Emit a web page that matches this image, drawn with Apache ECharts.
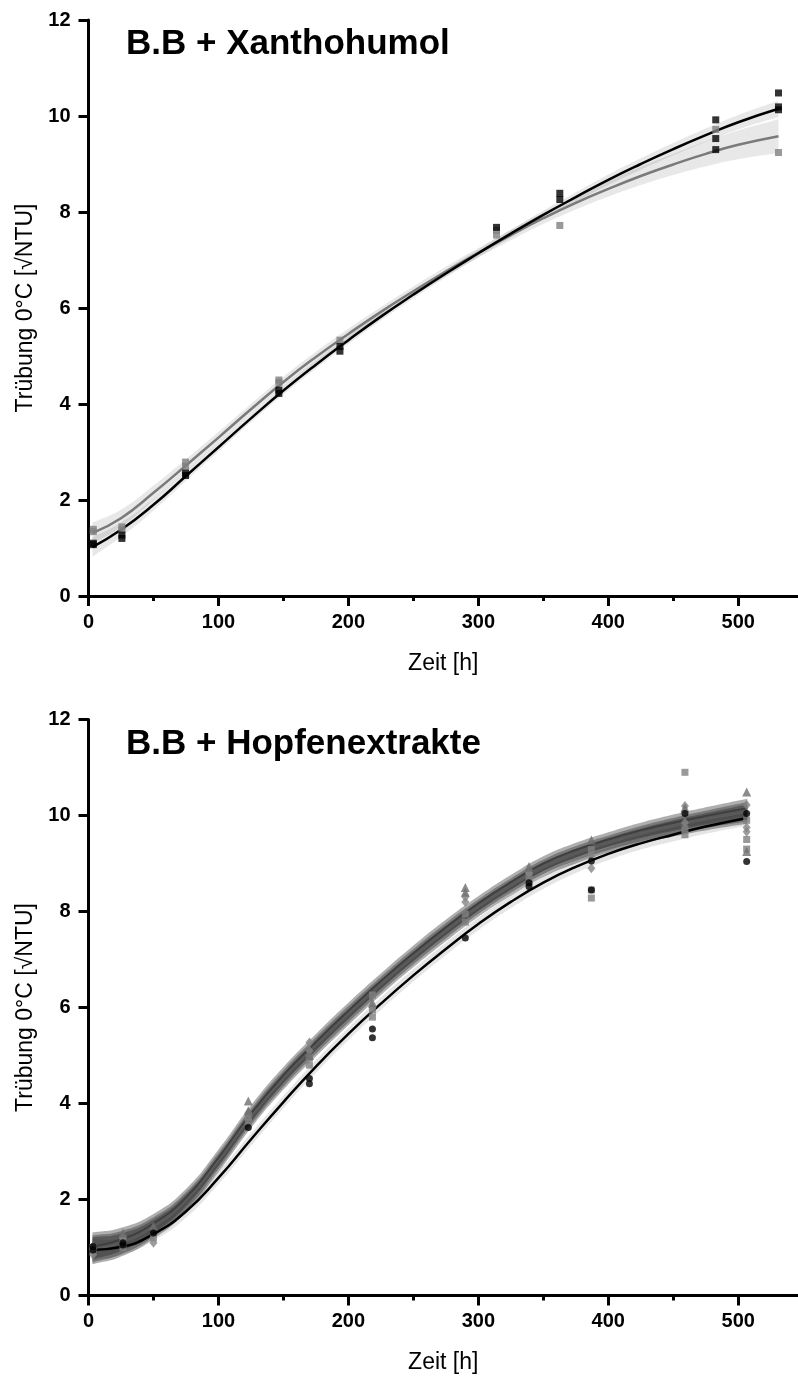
<!DOCTYPE html>
<html><head><meta charset="utf-8">
<script src="https://cdn.jsdelivr.net/npm/echarts@6/dist/echarts.min.js"></script>
<style>html,body{margin:0;padding:0;background:#fff}#c{width:798px;height:1378px}</style>
</head><body><div id="c"></div><script>
// ---------- DATA ----------
const xTickValues = [0, 100, 200, 300, 400, 500];
const xMinorValues = [50, 150, 250, 350, 450];
const yTickLabels = [0, 2, 4, 6, 8, 10, 12];
const titleTop = 'B.B + Xanthohumol';
const titleBottom = 'B.B + Hopfenextrakte';

// Top chart (Xanthohumol)
const topCurveX = [3, 25, 50, 75, 100, 125, 150, 175, 200, 225, 250, 275, 300, 325, 350, 375, 400, 425, 450, 475, 500, 531];
const topBlackCurve = [1.02, 1.38, 1.90, 2.50, 3.10, 3.70, 4.28, 4.82, 5.33, 5.82, 6.28, 6.72, 7.14, 7.55, 7.94, 8.31, 8.67, 9.00, 9.31, 9.60, 9.87, 10.15];
const topBlackBand = [0.20, 0.15, 0.12, 0.10, 0.09, 0.08, 0.08, 0.08, 0.08, 0.08, 0.08, 0.08, 0.08, 0.08, 0.09, 0.10, 0.11, 0.12, 0.13, 0.14, 0.15, 0.17];
const topGrayCurve = [1.31, 1.62, 2.15, 2.72, 3.30, 3.89, 4.46, 4.98, 5.46, 5.92, 6.35, 6.76, 7.15, 7.52, 7.87, 8.19, 8.48, 8.75, 8.99, 9.21, 9.40, 9.58];
const topGrayBand = [0.22, 0.18, 0.15, 0.13, 0.12, 0.11, 0.11, 0.11, 0.11, 0.10, 0.10, 0.10, 0.10, 0.11, 0.12, 0.14, 0.16, 0.19, 0.22, 0.26, 0.30, 0.35];
const topBlackPoints = [[3.7,1.10],[3.7,1.07],[25.7,1.27],[25.7,1.20],[74.7,2.51],[74.7,2.56],[146.5,4.22],[146.5,4.29],[193.5,5.20],[193.5,5.10],[314,7.68],[362.7,8.39],[362.7,8.26],[482.7,9.92],[482.7,9.53],[482.7,9.30],[531,10.48],[531,10.13],[531,10.19]];
const topGrayPoints = [[3.7,1.39],[3.7,1.34],[25.7,1.44],[25.7,1.38],[74.7,2.79],[74.7,2.70],[146.5,4.50],[146.5,4.45],[193.5,5.33],[314,7.62],[314,7.52],[362.7,7.72],[482.7,9.72],[531,9.24]];

// Bottom chart (Hopfenextrakte)
const botCurveX = [3, 25, 50, 75, 100, 125, 150, 175, 200, 225, 250, 275, 300, 325, 350, 375, 400, 425, 450, 475, 507];
const botBlackCurve = [0.95, 1.01, 1.28, 1.75, 2.45, 3.25, 4.03, 4.77, 5.45, 6.08, 6.67, 7.22, 7.74, 8.20, 8.60, 8.93, 9.20, 9.42, 9.60, 9.77, 9.95];
const botBlackBand = [0.22, 0.17, 0.14, 0.13, 0.13, 0.13, 0.13, 0.13, 0.13, 0.13, 0.13, 0.13, 0.13, 0.13, 0.13, 0.13, 0.13, 0.13, 0.14, 0.15, 0.16];
const botCurve2 = [0.93, 1.05, 1.38, 1.92, 2.74, 3.66, 4.46, 5.15, 5.80, 6.42, 7.00, 7.54, 8.04, 8.48, 8.87, 9.15, 9.38, 9.57, 9.73, 9.87, 10.03];
const botCurve3 = [1.03, 1.17, 1.50, 2.04, 2.87, 3.79, 4.59, 5.28, 5.93, 6.55, 7.13, 7.67, 8.17, 8.61, 9.00, 9.28, 9.50, 9.69, 9.85, 9.99, 10.15];
const botCurve4 = [0.97, 1.10, 1.43, 1.97, 2.80, 3.72, 4.52, 5.21, 5.86, 6.48, 7.06, 7.60, 8.10, 8.54, 8.93, 9.21, 9.43, 9.62, 9.78, 9.92, 10.08];
const botGrayBand = [0.28, 0.24, 0.20, 0.18, 0.17, 0.17, 0.17, 0.17, 0.17, 0.16, 0.16, 0.16, 0.15, 0.15, 0.15, 0.15, 0.15, 0.16, 0.17, 0.18, 0.20];
const botPoints1 = [[3.5,0.95],[3.5,1.02],[26.5,1.05],[26.5,1.10],[50,1.30],[123,3.50],[170,4.52],[170,4.41],[218.5,5.55],[218.5,5.37],[290,7.45],[339,8.52],[339,8.60],[387,8.45],[387,9.05],[459,10.04],[506.5,10.04],[506.5,9.04]];
const botPoints2 = [[3.5,0.92],[3.5,1.00],[26.5,1.00],[26.5,1.15],[50,1.20],[123,3.62],[123,3.72],[170,4.80],[170,4.95],[218.5,5.80],[218.5,5.95],[218.5,6.26],[290,7.95],[290,7.78],[339,8.62],[339,8.75],[387,8.28],[387,8.45],[387,9.29],[459,10.90],[459,9.60],[459,9.72],[506.5,9.30],[506.5,9.50],[506.5,9.90]];
const botPoints3 = [[3.5,1.05],[26.5,1.30],[50,1.45],[123,4.05],[123,3.85],[170,5.00],[218.5,6.10],[290,8.50],[290,8.40],[339,8.94],[387,9.49],[459,10.16],[506.5,10.49],[506.5,9.25]];
const botPoints4 = [[3.5,0.85],[26.5,1.20],[50,1.10],[123,3.80],[170,5.27],[170,5.10],[218.5,6.00],[290,8.20],[290,8.30],[339,8.80],[387,8.90],[387,9.15],[459,10.20],[459,9.85],[506.5,10.22],[506.5,9.66],[506.5,9.75]];

// ---------- CHART ----------
const FF = '"Liberation Sans", Arial, sans-serif';
const chart = echarts.init(document.getElementById('c'), null, {renderer: 'canvas'});

function mainX(gi) {
  return {
    type: 'value', gridIndex: gi, min: 0, max: 546, position: 'bottom',
    axisLine: {show: true, onZero: false, lineStyle: {color: '#000', width: 3}},
    axisTick: {show: true, length: 10, lineStyle: {color: '#000', width: 3}, customValues: xTickValues},
    axisLabel: {customValues: xTickValues, color: '#000', fontFamily: FF, fontWeight: 'bold', fontSize: 20, margin: 16},
    splitLine: {show: false},
    name: 'Zeit [h]', nameLocation: 'middle', nameGap: 56,
    nameTextStyle: {color: '#000', fontFamily: FF, fontSize: 23}
  };
}
function minorX(gi) {
  return {
    type: 'value', gridIndex: gi, min: 0, max: 546, position: 'bottom', offset: 0,
    axisLine: {show: false, onZero: false},
    axisTick: {show: true, length: 5, lineStyle: {color: '#000', width: 3}, customValues: xMinorValues},
    axisLabel: {show: false}, splitLine: {show: false}
  };
}
function mainY(gi) {
  return {
    type: 'value', gridIndex: gi, min: 0, max: 12, interval: 2,
    axisLine: {show: true, onZero: false, lineStyle: {color: '#000', width: 3}},
    axisTick: {show: true, length: 10, lineStyle: {color: '#000', width: 3}, customValues: yTickLabels},
    axisLabel: {customValues: yTickLabels, color: '#000', fontFamily: FF, fontWeight: 'bold', fontSize: 20, margin: 18},
    splitLine: {show: false},
    name: 'Trübung 0°C [√NTU]', nameLocation: 'middle', nameGap: 47,
    nameTextStyle: {color: '#000', fontFamily: FF, fontSize: 23}
  };
}

// ECharts-like bezier smoothing, sampled in pixel space (rendering only)
function smoothPixels(pts, smooth) {
  const out = [pts[0]];
  const n = pts.length;
  const cps = pts.map((p, i) => {
    const prev = pts[Math.max(i - 1, 0)], next = pts[Math.min(i + 1, n - 1)];
    const dx = next[0] - prev[0], dy = next[1] - prev[1];
    const lp = Math.hypot(p[0] - prev[0], p[1] - prev[1]);
    const ln = Math.hypot(next[0] - p[0], next[1] - p[1]);
    const r = (lp + ln) > 0 ? ln / (lp + ln) : 0.5;
    return {
      next: [p[0] + dx * smooth * r, p[1] + dy * smooth * r],
      prev: [p[0] - dx * smooth * (1 - r), p[1] - dy * smooth * (1 - r)]
    };
  });
  for (let i = 0; i < n - 1; i++) {
    const p0 = pts[i], p3 = pts[i + 1], c1 = cps[i].next, c2 = cps[i + 1].prev;
    for (let s = 1; s <= 12; s++) {
      const t = s / 12, u = 1 - t;
      out.push([
        u*u*u*p0[0] + 3*u*u*t*c1[0] + 3*u*t*t*c2[0] + t*t*t*p3[0],
        u*u*u*p0[1] + 3*u*u*t*c1[1] + 3*u*t*t*c2[1] + t*t*t*p3[1]
      ]);
    }
  }
  return out;
}

const series = [];
function addBand(gi, xs, ys, hw, color) {
  const data = xs.map((x, i) => [x, ys[i] - hw[i], ys[i] + hw[i]]);
  series.push({
    type: 'custom', xAxisIndex: gi, yAxisIndex: gi, silent: true, z: 1,
    encode: {x: 0, y: [1, 2]},
    data: data,
    renderItem: function (params, api) {
      if (params.dataIndex !== 0) return null;
      const up = data.map(d => api.coord([d[0], d[2]]));
      const lo = data.map(d => api.coord([d[0], d[1]]));
      const pts = smoothPixels(up, 0.5).concat(smoothPixels(lo.slice().reverse(), 0.5));
      return {type: 'polygon', shape: {points: pts}, style: {fill: color}};
    }
  });
}
function addLine(gi, xs, ys, color, w, z) {
  series.push({
    type: 'line', xAxisIndex: gi, yAxisIndex: gi, smooth: 0.5, symbol: 'none', silent: true,
    data: xs.map((x, i) => [x, ys[i]]), lineStyle: {color: color, width: w}, z: z || 3
  });
}
function addPoints(gi, pts, symbol, size, color) {
  series.push({
    type: 'scatter', xAxisIndex: gi, yAxisIndex: gi, symbol: symbol, symbolSize: size,
    data: pts, itemStyle: {color: color}, z: 5
  });
}

// top
addBand(0, topCurveX, topBlackCurve, topBlackBand, 'rgba(0,0,0,0.09)');
addBand(0, topCurveX, topGrayCurve, topGrayBand, 'rgba(0,0,0,0.09)');
addLine(0, topCurveX, topGrayCurve, '#7a7a7a', 2.5);
addLine(0, topCurveX, topBlackCurve, '#000', 2.5);
addPoints(0, topGrayPoints, 'rect', 7, '#808080');
addPoints(0, topBlackPoints, 'rect', 7, '#000');

// bottom
addBand(1, botCurveX, botBlackCurve, botBlackBand, 'rgba(0,0,0,0.1)');
addBand(1, botCurveX, botCurve2, botGrayBand, 'rgba(30,30,30,0.36)');
addBand(1, botCurveX, botCurve3, botGrayBand, 'rgba(30,30,30,0.36)');
addBand(1, botCurveX, botCurve4, botGrayBand, 'rgba(30,30,30,0.36)');
addLine(1, botCurveX, botCurve2, '#4d4d4d', 2);
addLine(1, botCurveX, botCurve3, '#3f3f3f', 2);
addLine(1, botCurveX, botCurve4, '#5a5a5a', 2);
addLine(1, botCurveX, botBlackCurve, '#000', 2.5, 4);
addPoints(1, botPoints2, 'rect', 7, '#7f7f7f');
addPoints(1, botPoints4, 'diamond', [8, 10], '#858585');
addPoints(1, botPoints3, 'triangle', 9, '#6e6e6e');
addPoints(1, botPoints1, 'circle', 7, '#000');

chart.setOption({
  animation: false,
  backgroundColor: '#fff',
  title: [
    {text: titleTop, left: 126, top: 27, padding: 0, textStyle: {fontFamily: FF, fontSize: 35, fontWeight: 'bold', color: '#000'}},
    {text: titleBottom, left: 126, top: 727, padding: 0, textStyle: {fontFamily: FF, fontSize: 35, fontWeight: 'bold', color: '#000'}}
  ],
  grid: [
    {left: 88.5, top: 20, width: 709.5, height: 576, containLabel: false},
    {left: 88.5, top: 719.5, width: 709.5, height: 576, containLabel: false}
  ],
  xAxis: [mainX(0), mainX(1), minorX(0), minorX(1)],
  yAxis: [mainY(0), mainY(1)],
  series: series
});
</script></body></html>
